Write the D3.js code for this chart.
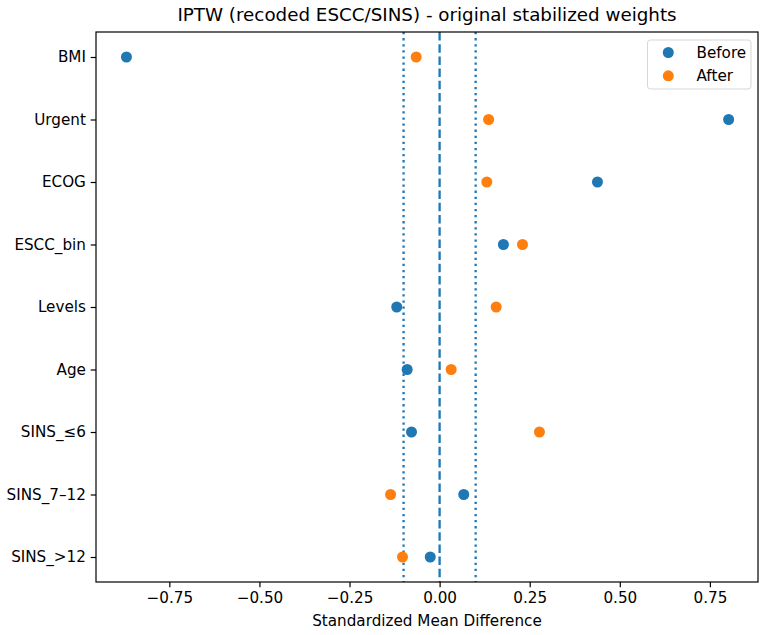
<!DOCTYPE html>
<html>
<head>
<meta charset="utf-8">
<script src="https://cdn.jsdelivr.net/npm/d3@7"></script>
<style>
  body { margin: 0; background: #fff; }
  svg text { font-family: "DejaVu Sans", sans-serif; fill: #000; }
</style>
</head>
<body>
<div id="chart"></div>
<script>
// covariates, top to bottom
const covariates = ["BMI", "Urgent", "ECOG", "ESCC_bin", "Levels", "Age", "SINS_\u22646", "SINS_7\u201312", "SINS_>12"];
const before = [-0.869, 0.802, 0.438, 0.177, -0.119, -0.090, -0.078, 0.067, -0.026];
const after = [-0.065, 0.136, 0.131, 0.230, 0.157, 0.032, 0.277, -0.136, -0.103];
const xTicks = [-0.75, -0.5, -0.25, 0, 0.25, 0.5, 0.75];
const threshold = 0.1;

const width = 767, height = 635;
const margin = { top: 32, right: 9, bottom: 53, left: 96 };
const fontSize = "15.2px";

const svg = d3.select("#chart").append("svg")
  .attr("width", width)
  .attr("height", height);

const x = d3.scaleLinear()
  .domain([-0.9535, 0.8835])
  .range([margin.left, width - margin.right]);

const y = d3.scaleLinear()
  .domain([-0.4, covariates.length - 1 + 0.4])
  .range([margin.top, height - margin.bottom]);

// reference lines
[-threshold, threshold].forEach((v) => {
  svg.append("line")
    .attr("x1", x(v)).attr("x2", x(v))
    .attr("y1", margin.top).attr("y2", height - margin.bottom)
    .style("stroke", "#1f77b4")
    .style("stroke-width", 2.3)
    .style("stroke-dasharray", "2.3,3.8");
});
svg.append("line")
  .attr("x1", x(0)).attr("x2", x(0))
  .attr("y1", margin.top).attr("y2", height - margin.bottom)
  .style("stroke", "#1f77b4")
  .style("stroke-width", 2.3)
  .style("stroke-dasharray", "8.5,3.7");

// points
svg.append("g").selectAll("circle")
  .data(before).enter().append("circle")
  .attr("cx", (d) => x(d))
  .attr("cy", (d, i) => y(i))
  .attr("r", 5.5)
  .style("fill", "#1f77b4");

svg.append("g").selectAll("circle")
  .data(after).enter().append("circle")
  .attr("cx", (d) => x(d))
  .attr("cy", (d, i) => y(i))
  .attr("r", 5.5)
  .style("fill", "#ff7f0e");

// axes
const xAxis = svg.append("g")
  .attr("transform", `translate(0,${height - margin.bottom})`)
  .call(d3.axisBottom(x).tickValues(xTicks).tickFormat((d) => d3.format(".2f")(d).replace("-", "\u2212")).tickSize(5.3).tickPadding(4.8));

const yAxis = svg.append("g")
  .attr("transform", `translate(${margin.left},0)`)
  .call(d3.axisLeft(y).tickValues(d3.range(covariates.length)).tickFormat((i) => covariates[i]).tickSize(5.3).tickPadding(4.8));

[xAxis, yAxis].forEach((g) => {
  g.select(".domain").remove();
  g.selectAll(".tick line").style("stroke", "#000").style("stroke-width", 1.2);
  g.selectAll(".tick text").style("font-size", fontSize).style("font-family", "DejaVu Sans, sans-serif");
});

// frame
svg.append("rect")
  .attr("x", margin.left).attr("y", margin.top)
  .attr("width", width - margin.right - margin.left)
  .attr("height", height - margin.bottom - margin.top)
  .style("fill", "none")
  .style("stroke", "#000")
  .style("stroke-width", 1.2);

// title and label
svg.append("text")
  .attr("x", (margin.left + width - margin.right) / 2)
  .attr("y", 21)
  .attr("text-anchor", "middle")
  .style("font-size", "18.3px")
  .text("IPTW (recoded ESCC/SINS) - original stabilized weights");

svg.append("text")
  .attr("x", (margin.left + width - margin.right) / 2)
  .attr("y", 626)
  .attr("text-anchor", "middle")
  .style("font-size", fontSize)
  .text("Standardized Mean Difference");

// legend
const legend = svg.append("g");
legend.append("rect")
  .attr("x", 647.5).attr("y", 40)
  .attr("width", 103.5).attr("height", 49)
  .attr("rx", 3)
  .style("fill", "#fff")
  .style("fill-opacity", 0.8)
  .style("stroke", "#d6d6d6")
  .style("stroke-width", 1);

const series = [["Before", "#1f77b4"], ["After", "#ff7f0e"]];
series.forEach((s, i) => {
  legend.append("circle")
    .attr("cx", 668.3).attr("cy", 52.5 + i * 23.3)
    .attr("r", 5.5)
    .style("fill", s[1]);
  legend.append("text")
    .attr("x", 696.5).attr("y", 52.5 + i * 23.3)
    .attr("dy", "0.35em")
    .style("font-size", fontSize)
    .text(s[0]);
});
</script>
</body>
</html>
